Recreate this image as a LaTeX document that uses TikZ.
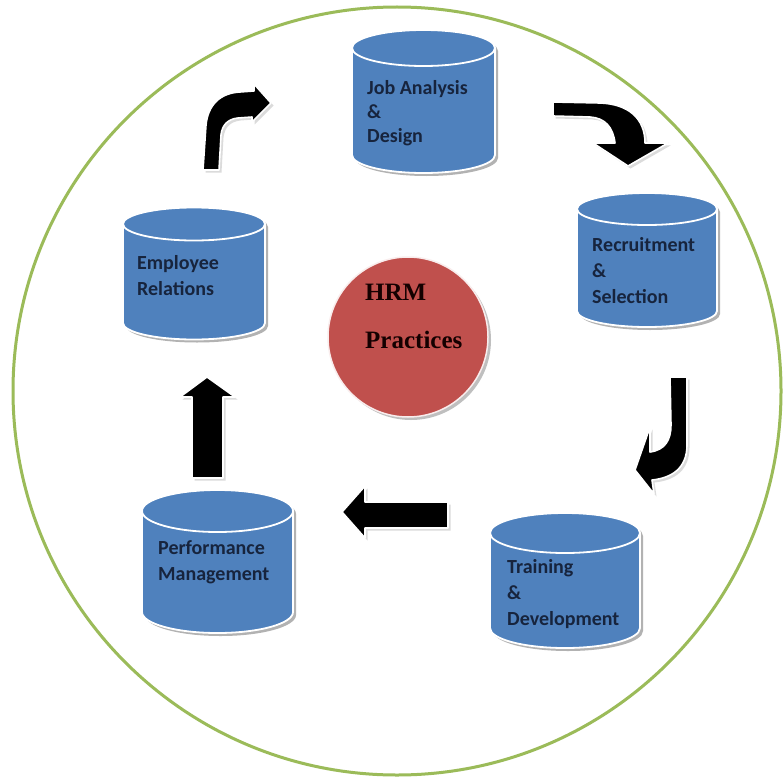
\documentclass[tikz,border=0pt]{standalone}
\usepackage{fontspec}
\newfontfamily\calfont{Carlito}
\newfontfamily\tmsfont{Liberation Serif}
\usetikzlibrary{shadows}
\definecolor{cylblue}{HTML}{4F81BD}
\definecolor{hrmred}{HTML}{C0504D}
\definecolor{ringgreen}{HTML}{9BBB59}
\definecolor{navytext}{HTML}{17243D}
\tikzset{
  ring/.style={draw=ringgreen, line width=3pt},
  cylbody/.style={fill=cylblue, draw=white, line width=1.8pt, line join=round},
  cylshadow/.style={fill=black!30},
  blockarrow/.style={fill=black, draw=white, line width=1.6pt, line join=round,
     drop shadow={shadow xshift=2.5pt, shadow yshift=-2.5pt, fill=black!28}},
  lbl/.style={font=\calfont\bfseries\fontsize{20}{26}\selectfont, text=navytext,
     align=left, inner sep=0pt, anchor=west},
  hrmlbl/.style={font=\tmsfont\bfseries\fontsize{25}{48}\selectfont, text=black!92!red,
     align=left, inner sep=0pt, anchor=west}
}
\newcommand\hrmcyl[5]{% x1, x2, ytop centre, ybot centre, ry
  \pgfmathsetmacro\cx{(#1+#2)/2}%
  \pgfmathsetmacro\rx{(#2-#1)/2}%
  \path[cylshadow] (#1+3,#3+3) -- (#1+3,#4+3) arc[start angle=180,end angle=0,x radius=\rx,y radius=#5]
     -- (#2+3,#3+3) arc[start angle=0,end angle=-180,x radius=\rx,y radius=#5] -- cycle;
  \path[cylbody] (#1,#3) -- (#1,#4) arc[start angle=180,end angle=0,x radius=\rx,y radius=#5]
     -- (#2,#3) arc[start angle=0,end angle=-180,x radius=\rx,y radius=#5] -- cycle;
  \path[cylbody] (\cx,#3) ellipse[x radius=\rx, y radius=#5];
}
\begin{document}
\begin{tikzpicture}[x=1pt,y=-1pt]
\useasboundingbox (0,0) rectangle (783,778);
\fill[white] (0,0) rectangle (783,778);
\draw[ring] (397,391) circle[radius=384];

% cylinders
\hrmcyl{352}{495}{48}{155}{18}
\hrmcyl{577}{717}{209}{311}{16}
\hrmcyl{490}{640}{533}{628}{20}
\hrmcyl{142}{293}{511}{612}{21}
\hrmcyl{123}{265}{224}{323}{16.5}

% centre circle
\fill[black!25] (411,340) circle[radius=80];
\draw[fill=hrmred, draw=white!90!hrmred, line width=1.5pt] (408,337) circle[radius=80];

% labels
\node[lbl] (job) at (367,113) {Job Analysis\\[-2pt]\&\\[-2pt]Design};
\node[lbl] (rec) at (592,271) {Recruitment\\\&\\Selection};
\node[lbl] (trn) at (507,594) {Training\\\&\\Development};
\node[lbl] (perf) at (158,562) {Performance\\Management};
\node[lbl] (emp) at (137,276) {Employee\\Relations};
\node[hrmlbl] (hrm) at (365,316) {HRM\\Practices};

% arrows
\path[blockarrow] (203,170) -- (206,125) .. controls (208,105) and (220,93) .. (240,92)
   -- (254,91) -- (254,84) -- (271,103) -- (252,122) -- (252,117) -- (238,118)
   .. controls (228,119) and (222,125) .. (221,135) -- (219,170) -- cycle;
\path[blockarrow] (553,102) -- (600,103) .. controls (628,104) and (645,118) .. (645,143)
   -- (668,143) -- (628,166) -- (593,143) -- (615,143)
   .. controls (613,127) and (605,118) .. (590,117) -- (553,116) -- cycle;
\path[blockarrow] (670,377) -- (687,377) -- (687,445) .. controls (687,468) and (672,478) .. (652,480)
   -- (654,494) -- (635,470) -- (650,427) -- (650,452)
   .. controls (665,450) and (671,440) .. (671,425) -- cycle;
\path[blockarrow] (448,502) -- (365,502) -- (365,486) -- (342,512) -- (365,538) -- (365,528)
   -- (448,528) -- cycle;
\path[blockarrow] (192,478) -- (192,397) -- (180,397) -- (207,377) -- (235,397) -- (223,397)
   -- (223,478) -- cycle;
\end{tikzpicture}
\end{document}
